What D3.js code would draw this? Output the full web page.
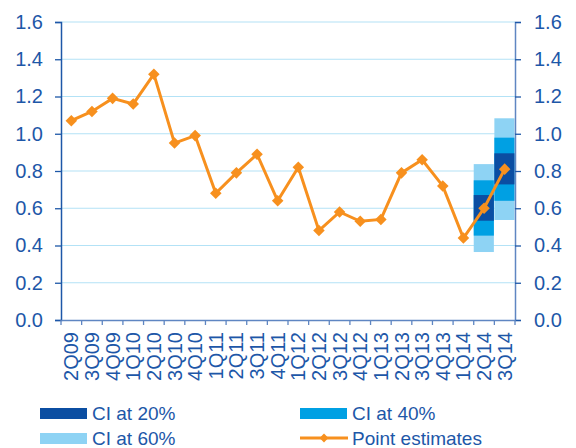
<!DOCTYPE html>
<html>
<head>
<meta charset="utf-8">
<script src="https://cdn.jsdelivr.net/npm/d3@7"></script>
<style>
  body { margin: 0; background: #fff; }
  text { font-family: "Liberation Sans", Arial, sans-serif; fill: #1d57a8; }
</style>
</head>
<body>
<div id="chart"></div>
<script>
var quarters = ["2Q09","3Q09","4Q09","1Q10","2Q10","3Q10","4Q10","1Q11","2Q11","3Q11","4Q11",
                "1Q12","2Q12","3Q12","4Q12","1Q13","2Q13","3Q13","4Q13","1Q14","2Q14","3Q14"];
var pointEstimates = [1.07,1.12,1.19,1.16,1.32,0.95,0.99,0.68,0.79,0.89,0.64,
                      0.82,0.48,0.58,0.53,0.54,0.79,0.86,0.72,0.44,0.60,0.81];
// confidence bands for the last two quarters: [low, high]
var fanQuarters = ["2Q14","3Q14"];
var ci60 = [[0.365,0.837],[0.537,1.083]];
var ci40 = [[0.453,0.750],[0.640,0.979]];
var ci20 = [[0.533,0.671],[0.728,0.895]];
var yTicks = [0,0.2,0.4,0.6,0.8,1.0,1.2,1.4,1.6];

var width = 576;
var height = 448;
var margin = {left: 61, right: 61, top: 22, bottom: 128};

var svg = d3.select('#chart')
  .append('svg')
  .attr('width', width)
  .attr('height', height);

var x = d3.scaleBand()
  .domain(quarters)
  .range([margin.left, width - margin.right]);

var y = d3.scaleLinear()
  .domain([0, 1.6])
  .range([height - margin.bottom, margin.top]);

// gridlines
svg.append('g')
  .selectAll('line')
  .data(yTicks.slice(1))
  .enter()
  .append('line')
  .attr('x1', margin.left)
  .attr('x2', width - margin.right)
  .attr('y1', function(d){ return y(d); })
  .attr('y2', function(d){ return y(d); })
  .attr('stroke', '#b3e2f6')
  .attr('stroke-width', 1.2);

// fan chart bands
function bands(data, color) {
  svg.append('g')
    .selectAll('rect')
    .data(data)
    .enter()
    .append('rect')
    .attr('x', function(d, i){ return x(fanQuarters[i]); })
    .attr('width', x.bandwidth() - 0.5)
    .attr('y', function(d){ return y(d[1]); })
    .attr('height', function(d){ return y(d[0]) - y(d[1]); })
    .attr('fill', color);
}
bands(ci60, '#8ed3f4');
bands(ci40, '#00a0e3');
bands(ci20, '#0b4ea2');

// axes
var fmt = d3.format('.1f');
var yLeft = svg.append('g')
  .attr('transform', 'translate(' + margin.left + ',0)')
  .call(d3.axisLeft(y).tickValues(yTicks).tickFormat(fmt).tickSize(6).tickPadding(12));
var yRight = svg.append('g')
  .attr('transform', 'translate(' + (width - margin.right) + ',0)')
  .call(d3.axisRight(y).tickValues(yTicks).tickFormat(fmt).tickSize(6).tickPadding(13));
var xAxis = svg.append('g')
  .attr('transform', 'translate(0,' + y(0) + ')')
  .call(d3.axisBottom(x).tickSize(0).tickPadding(0));

[yLeft, yRight].forEach(function(g){
  g.selectAll('text').style('font-size', '20px').style('fill', '#1d57a8');
  g.selectAll('line').attr('stroke', '#1d57a8').attr('stroke-width', 1.3);
});
yLeft.select('.domain').attr('stroke', '#1d57a8').attr('stroke-width', 1.5);
yRight.select('.domain').attr('stroke', '#5f86c2').attr('stroke-width', 1.5);

xAxis.select('.domain').attr('stroke', '#5f86c2').attr('stroke-width', 1.5);
xAxis.selectAll('text')
  .style('font-size', '20px')
  .style('fill', '#1d57a8')
  .attr('text-anchor', 'end')
  .attr('dy', '0.35em')
  .attr('transform', 'translate(0,12) rotate(-90)');

// tick marks between categories
svg.append('g')
  .selectAll('line')
  .data(quarters.concat(['end']))
  .enter()
  .append('line')
  .attr('x1', function(d, i){ return margin.left + i * x.step(); })
  .attr('x2', function(d, i){ return margin.left + i * x.step(); })
  .attr('y1', y(0))
  .attr('y2', y(0) + 5)
  .attr('stroke', '#5f86c2')
  .attr('stroke-width', 1.3);

// point estimate line
var line = d3.line()
  .x(function(d, i){ return x(quarters[i]) + x.bandwidth() / 2; })
  .y(function(d){ return y(d); });

svg.append('path')
  .datum(pointEstimates)
  .attr('d', line)
  .attr('fill', 'none')
  .attr('stroke', '#f7901e')
  .attr('stroke-width', 3);

var diamond = d3.symbol().type(d3.symbolDiamond2).size(85);
svg.append('g')
  .selectAll('path')
  .data(pointEstimates)
  .enter()
  .append('path')
  .attr('d', diamond)
  .attr('transform', function(d, i){
    return 'translate(' + (x(quarters[i]) + x.bandwidth() / 2) + ',' + y(d) + ')';
  })
  .attr('fill', '#f7901e');

// legend
var legendItems = [
  {label: 'CI at 20%', color: '#0b4ea2', x: 40, y: 413},
  {label: 'CI at 40%', color: '#00a0e3', x: 300, y: 413},
  {label: 'CI at 60%', color: '#8ed3f4', x: 40, y: 438},
  {label: 'Point estimates', color: '#f7901e', x: 300, y: 438, line: true}
];
var legend = svg.append('g');
legendItems.forEach(function(d){
  if (d.line) {
    legend.append('line')
      .attr('x1', d.x).attr('x2', d.x + 48)
      .attr('y1', d.y).attr('y2', d.y)
      .attr('stroke', d.color).attr('stroke-width', 2.8);
    legend.append('path')
      .attr('d', d3.symbol().type(d3.symbolDiamond2).size(50))
      .attr('transform', 'translate(' + (d.x + 24) + ',' + d.y + ')')
      .attr('fill', d.color);
  } else {
    legend.append('rect')
      .attr('x', d.x).attr('y', d.y - 5)
      .attr('width', 47).attr('height', 11)
      .attr('fill', d.color);
  }
  legend.append('text')
    .attr('x', d.x + 52)
    .attr('y', d.y)
    .attr('dy', '0.35em')
    .style('font-size', '19px')
    .text(d.label);
});
</script>
</body>
</html>
